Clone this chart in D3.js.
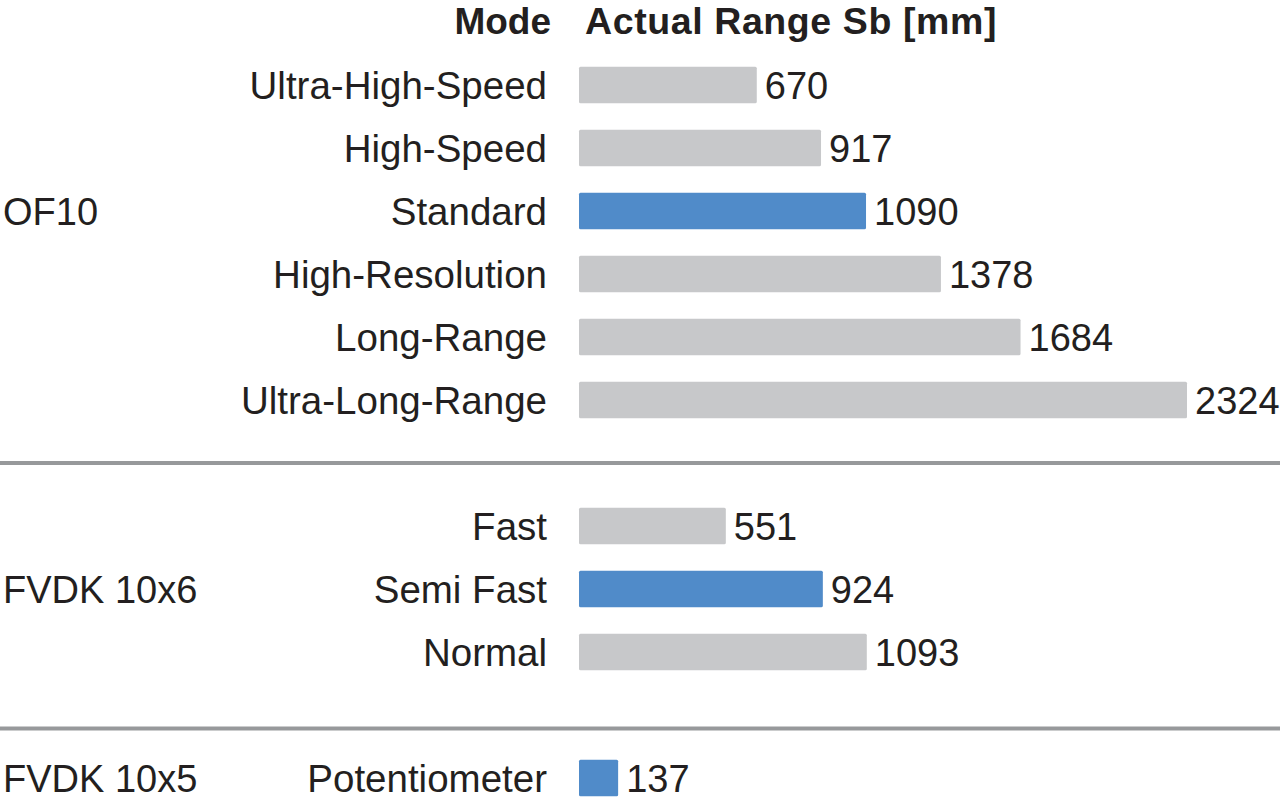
<!DOCTYPE html>
<html>
<head>
<meta charset="utf-8">
<script src="https://cdn.jsdelivr.net/npm/d3@7/dist/d3.min.js"></script>
<style>
  html, body { margin: 0; padding: 0; background: #fff; }
  svg { display: block; }
  text { font-family: "Liberation Sans", Arial, Helvetica, sans-serif; fill: #231f20; }
</style>
</head>
<body>
<svg id="chart" width="1280" height="806"></svg>
<script>
// ---- data ----
const groups = ["OF10", "FVDK 10x6", "FVDK 10x5"];
const modes = ["Ultra-High-Speed", "High-Speed", "Standard", "High-Resolution", "Long-Range", "Ultra-Long-Range",
               "Fast", "Semi Fast", "Normal",
               "Potentiometer"];
const modeGroup = ["OF10", "OF10", "OF10", "OF10", "OF10", "OF10",
                   "FVDK 10x6", "FVDK 10x6", "FVDK 10x6",
                   "FVDK 10x5"];
const rangeValues = [670, 917, 1090, 1378, 1684, 2324, 551, 924, 1093, 137];
const highlighted = [false, false, true, false, false, false, false, true, false, true];
const headerMode = "Mode";
const headerValue = "Actual Range Sb [mm]";

// ---- layout ----
const svg = d3.select("#chart");
const GRAY = "#c7c8ca", BLUE = "#508bc9", SEP = "#97999b";

// slot index: rows with one empty slot between groups
const slots = [];
let s = 0;
modes.forEach((m, i) => {
  if (i > 0 && modeGroup[i] !== modeGroup[i - 1]) s += 1;
  slots.push(s);
  s += 1;
});
const y = d3.scaleLinear().domain([0, d3.max(slots)]).range([85, 778]);
const x = d3.scaleLinear().domain([0, d3.max(rangeValues)]).range([582.5, 1187]);
const barH = 36.6;
const barX0 = 579;

const rows = modes.map((m, i) => ({ mode: m, group: modeGroup[i], value: rangeValues[i], hl: highlighted[i], slot: slots[i] }));

// header
svg.append("text").attr("x", 551).attr("y", 34).attr("text-anchor", "end")
  .style("font-weight", "bold").style("font-size", "37px").text(headerMode);
svg.append("text").attr("x", 585).attr("y", 34)
  .style("font-weight", "bold").style("font-size", "37.5px").style("letter-spacing", "0.6px").text(headerValue);

// separators between groups
const sepY = [];
groups.forEach((g, gi) => {
  if (gi === 0) return;
  const first = rows.find(r => r.group === g);
  let yy = y(first.slot - 1);
  if (gi === 2) yy += 13.5;
  sepY.push(yy);
});
svg.selectAll("line.sep").data(sepY).join("line")
  .attr("class", "sep")
  .attr("x1", 0).attr("x2", 1280)
  .attr("y1", d => d).attr("y2", d => d)
  .attr("stroke", SEP).attr("stroke-width", 4);

// bars
svg.selectAll("rect.bar").data(rows).join("rect")
  .attr("class", "bar")
  .attr("x", barX0)
  .attr("y", d => y(d.slot) - barH / 2)
  .attr("width", d => x(d.value) - barX0)
  .attr("height", barH)
  .attr("rx", 1.5)
  .attr("fill", d => d.hl ? BLUE : GRAY);

// mode labels
svg.selectAll("text.mode").data(rows).join("text")
  .attr("class", "mode")
  .attr("x", 547)
  .attr("y", d => y(d.slot))
  .attr("dy", "0.36em")
  .attr("text-anchor", "end")
  .style("font-size", "38.5px")
  .text(d => d.mode);

// value labels
svg.selectAll("text.val").data(rows).join("text")
  .attr("class", "val")
  .attr("x", d => x(d.value) + 8)
  .attr("y", d => y(d.slot))
  .attr("dy", "0.36em")
  .style("font-size", "38px")
  .text(d => d.value);

// group labels, aligned with each group's highlighted row
const groupRows = groups.map(g => {
  const r = rows.find(r => r.group === g && r.hl) || rows.find(r => r.group === g);
  return { g, slot: r.slot };
});
svg.selectAll("text.grp").data(groupRows).join("text")
  .attr("class", "grp")
  .attr("x", 3)
  .attr("y", d => y(d.slot))
  .attr("dy", "0.36em")
  .style("font-size", "38px")
  .text(d => d.g);
</script>
</body>
</html>
